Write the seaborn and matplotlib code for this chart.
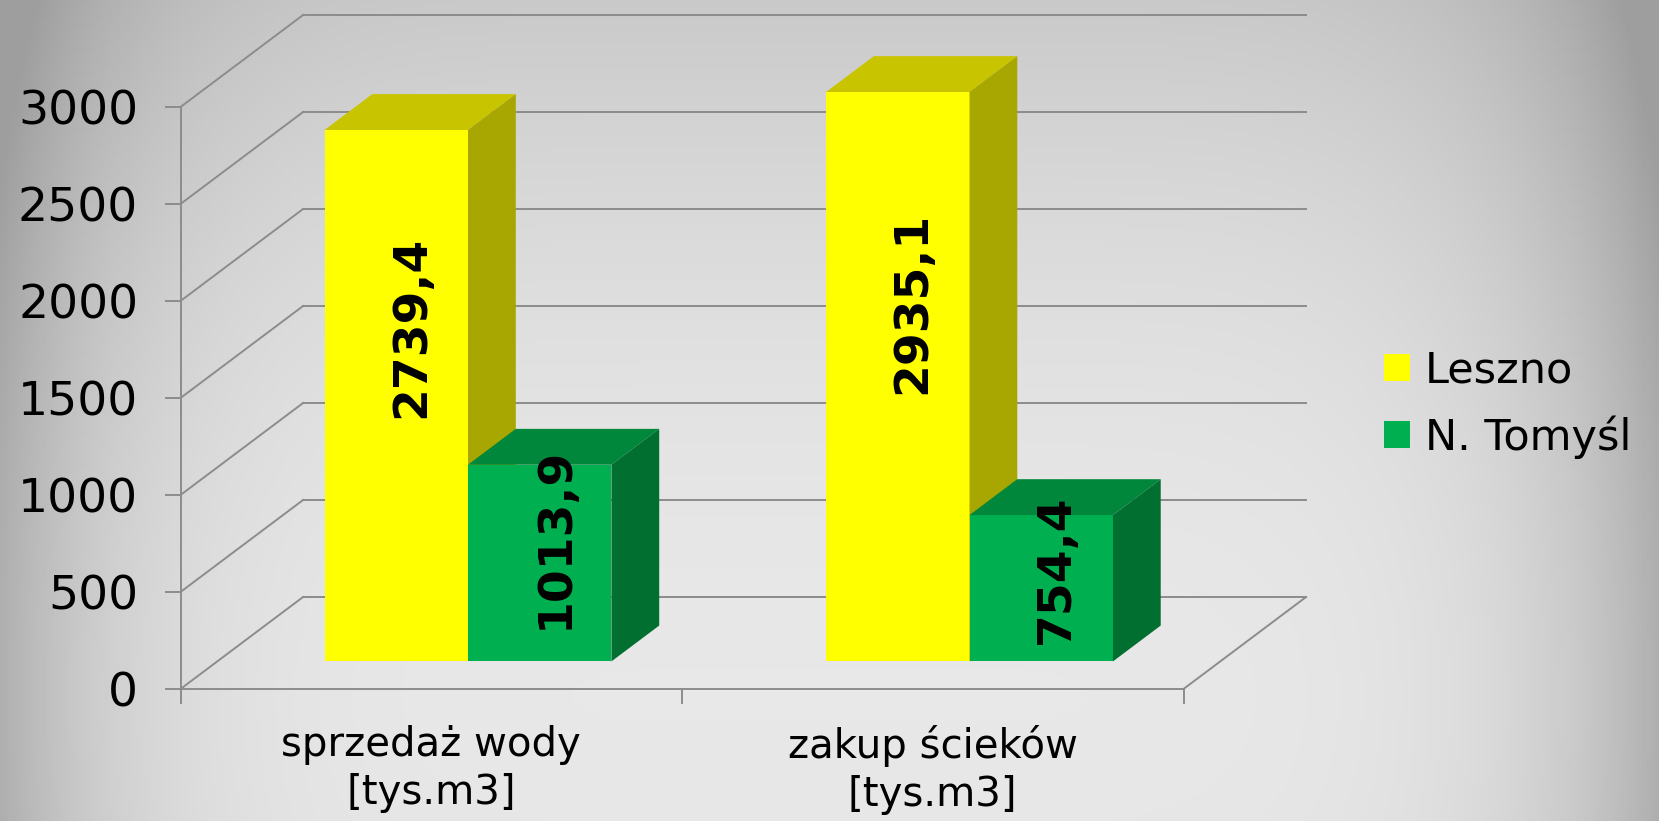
import matplotlib
matplotlib.use("Agg")
import matplotlib.pyplot as plt
import matplotlib.patches as mpatches
import numpy as np
import pandas as pd
import seaborn as sns

# dane z wykresu
kategorie = ["sprzedaż wody\n[tys.m3]", "zakup ścieków\n[tys.m3]"]
miasta = ["Leszno", "N. Tomyśl"]
leszno = [2739.4, 2935.1]
tomysl = [1013.9, 754.4]
y_ticks = [0, 500, 1000, 1500, 2000, 2500, 3000]

kolory = ["#FFFF00", "#00B050"]
kolory_gora = ["#C8C400", "#00873C"]
kolory_bok = ["#A8A600", "#006F30"]
grid_color = "#8c8c8c"

# pseudo 3D: przesuniecie glebi (jednostki kategorii, jednostki wartosci)
DX = 0.2443
DY = 474
bar_front = 0.30
bar_depth = 0.39

df = pd.DataFrame({
    "kategoria": kategorie * 2,
    "miasto": [miasta[0]] * 2 + [miasta[1]] * 2,
    "wartosc": leszno + tomysl,
})

plt.rcParams["font.family"] = ["DejaVu Sans"]

fig = plt.figure(figsize=(16.59, 8.21), dpi=100)

# tlo z gradientem
bg = fig.add_axes([0, 0, 1, 1], zorder=-1)
gx, gy = np.meshgrid(np.linspace(0, 1, 400), np.linspace(0, 1, 200))
nx = (gx - 0.5) / 0.5
ny = (gy - 0.85) / 0.85
shade = 0.91 - 0.12 * ny ** 2 - 0.22 * np.abs(nx) ** 6
shade = np.clip(shade, 0.62, 1)
bg.imshow(np.dstack([shade] * 3), aspect="auto", extent=(0, 1, 1, 0))
bg.set_axis_off()

ax = fig.add_axes([0, 0, 1, 1])
ax.patch.set_alpha(0)

sns.barplot(data=df, x="kategoria", y="wartosc", hue="miasto", palette=kolory,
            width=0.572, saturation=1, edgecolor="none", linewidth=0, ax=ax)

ax.set_xlim(-0.5 - 180.5 / 501.5, -0.5 + (1659 - 180.5) / 501.5)
ax.set_ylim(-(821 - 689) / 0.194, 689 / 0.194)

# siatka: tylna sciana, lewa sciana, podloga
x_left, x_right = -0.5, len(kategorie) - 0.5
for v in y_ticks:
    ax.plot([x_left + DX, x_right + DX], [v + DY, v + DY], color=grid_color, lw=1.4, zorder=1)
    ax.plot([x_left, x_left + DX], [v, v + DY], color=grid_color, lw=1.4, zorder=1)
ax.plot([x_right, x_right + DX], [0, DY], color=grid_color, lw=1.4, zorder=1)

# przesuniecie slupkow w glab i dorysowanie scian
bars = [p for p in ax.patches if isinstance(p, mpatches.Rectangle) and p.get_height() > 0]
bars = sorted(bars, key=lambda p: p.get_x())
fx, fy = bar_front * DX, bar_front * DY
bdx, bdy = bar_depth * DX, bar_depth * DY
for p in bars:
    p.set_x(p.get_x() + fx)
    p.set_y(fy)
for i, p in enumerate(bars):
    ci = 0 if p.get_facecolor()[2] < 0.1 else 1
    x0 = p.get_x()
    x1 = x0 + p.get_width()
    y0 = p.get_y()
    y1 = y0 + p.get_height()
    z = 3 + i * 0.1
    p.set_zorder(z)
    top = mpatches.Polygon([(x0, y1), (x1, y1), (x1 + bdx, y1 + bdy), (x0 + bdx, y1 + bdy)],
                           closed=True, facecolor=kolory_gora[ci], edgecolor="none", zorder=z)
    side = mpatches.Polygon([(x1, y0), (x1 + bdx, y0 + bdy), (x1 + bdx, y1 + bdy), (x1, y1)],
                            closed=True, facecolor=kolory_bok[ci], edgecolor="none", zorder=z)
    ax.add_patch(top)
    ax.add_patch(side)
    val = p.get_height()
    ax.text((x0 + x1) / 2 + 0.03, y0 + 0.63 * val, f"{val:.1f}".replace(".", ","),
            rotation=90, ha="center", va="center", fontsize=34, fontweight="bold",
            color="black", zorder=10)

# osie
for s in ["top", "right"]:
    ax.spines[s].set_visible(False)
ax.spines["left"].set_position(("data", x_left))
ax.spines["left"].set_bounds(0, 3000)
ax.spines["bottom"].set_position(("data", 0))
ax.spines["bottom"].set_bounds(x_left, x_right)
for s in ["left", "bottom"]:
    ax.spines[s].set_color(grid_color)
    ax.spines[s].set_linewidth(1.4)
    ax.spines[s].set_zorder(2)

ax.set_yticks(y_ticks)
ax.set_yticklabels([str(v) for v in y_ticks])
ax.tick_params(axis="y", direction="out", length=11.5, width=1.4, color=grid_color,
               labelsize=34, pad=19)
ax.set_xticks(np.arange(len(kategorie) + 1) - 0.5)
ax.set_xticklabels([""] * (len(kategorie) + 1))
ax.set_xticks(np.arange(len(kategorie)), minor=True)
ax.set_xticklabels(kategorie, minor=True, linespacing=1.25)
ax.tick_params(axis="x", which="major", direction="out", length=11, width=1.4, color=grid_color)
ax.tick_params(axis="x", which="minor", length=0, labelsize=29, pad=26)
ax.set_xlabel("")
ax.set_ylabel("")

sns.move_legend(ax, "center left", bbox_to_anchor=(1384 / 1659, 1 - 404 / 821),
                bbox_transform=fig.transFigure, frameon=False, title=None,
                fontsize=31, handlelength=0.6, handleheight=0.6, handletextpad=0.35,
                labelspacing=0.55, borderpad=0, borderaxespad=0)

fig.savefig("out.png", dpi=100)
